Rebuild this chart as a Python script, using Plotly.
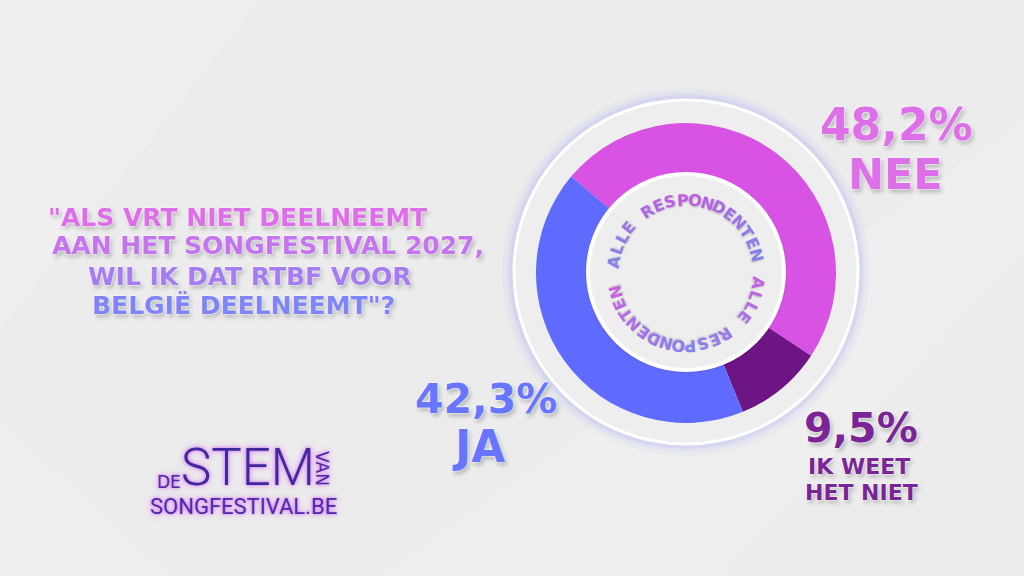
"""
Donut poll chart: 'Als VRT niet deelneemt aan het Songfestival 2027 ...'
Writes out.html
"""
import math
import plotly.graph_objects as go

W, H = 1024, 576

# ---- data ----
answers = ["NEE", "IK WEET HET NIET", "JA"]
shares = [48.2, 9.5, 42.3]
slice_colors = ["#d852e4", "#6e1585", "#5f6bff"]
label_colors = ["#dd6fe8", "#7a2595", "#6876ff"]

question_lines = [
    '"ALS VRT NIET DEELNEEMT',
    "AAN HET SONGFESTIVAL 2027,",
    "WIL IK DAT RTBF VOOR",
    'BELGIË DEELNEEMT"?',
]
question_colors = ["#de6de9", "#c474ec", "#a67cf1", "#7f84f6"]
ring_text = "ALLE RESPONDENTEN"


def px(x):
    return x / W


def py(y):
    return 1 - y / H


def circle(cx, cy, r, **kw):
    return dict(type="circle", xref="paper", yref="paper",
                x0=px(cx - r), x1=px(cx + r), y0=py(cy + r), y1=py(cy - r), **kw)


def pct(v):
    return f"{v:.1f}%".replace(".", ",")


CX, CY, R = 686, 273, 150
HEAD = "'DejaVu Sans', Roboto, sans-serif"
SHADOW = "0 0 2px #ffffff, 0 0 2px #ffffff, 2px 3px 4px rgba(0,0,0,0.25)"

fig = go.Figure()
fig.add_trace(go.Pie(
    labels=answers,
    values=shares,
    marker=dict(colors=slice_colors, line=dict(width=0)),
    hole=0.65,
    sort=False,
    direction="clockwise",
    rotation=-50,
    textinfo="none",
    hoverinfo="label+percent",
    showlegend=False,
    domain=dict(x=[px(CX - R), px(CX + R)], y=[py(CY + R), py(CY - R)]),
))

shapes = []
# faint diagonal light bands in the background
for pts in [
    [(0, 0), (260, 0), (0, 330)],
    [(380, 576), (720, 576), (1024, 250), (1024, 120)],
    [(0, 420), (0, 576), (170, 576)],
]:
    path = "M " + " L ".join(f"{px(a)},{py(b)}" for a, b in pts) + " Z"
    shapes.append(dict(type="path", xref="paper", yref="paper", path=path,
                       fillcolor="rgba(255,255,255,0.2)", line=dict(width=0),
                       layer="below"))
# soft bluish glow + outer disc
for r, a in [(184, 0.04), (180, 0.06), (177, 0.09)]:
    shapes.append(circle(CX, CY - 1, r, fillcolor=f"rgba(110,115,255,{a})",
                         line=dict(width=0), layer="below"))
shapes.append(circle(CX, CY - 1, 172, fillcolor="#eeeeee",
                     line=dict(color="#ffffff", width=3), layer="below"))
# inner disc in the hole
shapes.append(circle(CX, CY, 101, fillcolor="rgba(0,0,0,0.05)",
                     line=dict(width=0), layer="above"))
shapes.append(circle(CX, CY - 1, 98, fillcolor="#eeeeee",
                     line=dict(color="#ffffff", width=4), layer="above"))

annotations = []


def add_text(text, x, y, size, color, weight=700, family=HEAD, angle=0,
             shadow=SHADOW):
    annotations.append(dict(
        text=text, x=px(x), y=py(y), xref="paper", yref="paper",
        xanchor="center", yanchor="middle", showarrow=False, textangle=angle,
        font=dict(family=family, size=size, color=color, weight=weight, shadow=shadow),
    ))


# question
for line, col, (x, y) in zip(question_lines, question_colors,
                             [(237, 217), (268, 246), (250, 276), (243, 305)]):
    add_text(line, x, y, 25, col)

# value labels
add_text(pct(shares[0]), 896, 125, 44, label_colors[0])
add_text(answers[0], 895, 174, 43, label_colors[0])
add_text(pct(shares[2]), 486, 399, 41, label_colors[2])
add_text(answers[2], 478, 446, 44, label_colors[2])
add_text(pct(shares[1]), 861, 428, 41, label_colors[1])
add_text("IK WEET", 859, 466, 22, label_colors[1])
add_text("HET NIET", 861, 492, 22, label_colors[1])


# circular "ALLE RESPONDENTEN" text, two copies
def mix(c1, c2, t):
    a = [int(c1[i:i + 2], 16) for i in (1, 3, 5)]
    b = [int(c2[i:i + 2], 16) for i in (1, 3, 5)]
    return "#" + "".join(f"{round(u + (v - u) * t):02x}" for u, v in zip(a, b))


RT = 73
step = 9.8
for start, c_end, c_mid in [(-81, "#8383ee", "#c25be0"), (98, "#c862e0", "#8383ee")]:
    n = len(ring_text)
    for i, ch in enumerate(ring_text):
        if ch == " ":
            continue
        ang = start + i * step
        t = 1 - abs(i / (n - 1) * 2 - 1)
        x = CX + RT * math.sin(math.radians(ang))
        y = CY - RT * math.cos(math.radians(ang))
        add_text(ch, x, y, 16, mix(c_end, c_mid, t), angle=ang,
                 shadow="1px 1px 2px rgba(0,0,0,0.2)")

# logo
LOGO_SHADOW = "0 0 3px #e070f0, 0 0 6px rgba(200,90,240,0.7)"
LOGO_FONT = "Roboto, sans-serif"
add_text("DE", 169, 482, 17, "#4a2aa8", weight=400, family=HEAD, shadow=LOGO_SHADOW)
add_text("STEM", 248, 467, 51, "#3d2a9c", weight=300, family=LOGO_FONT, shadow=LOGO_SHADOW)
add_text("VAN", 322, 468, 17, "#4a2aa8", weight=400, angle=90,
         family=HEAD, shadow=LOGO_SHADOW)
add_text("SONGFESTIVAL.BE", 243, 506, 22, "#4d2ab0", weight=400,
         family=LOGO_FONT, shadow=LOGO_SHADOW)

fig.update_layout(
    width=W,
    height=H,
    paper_bgcolor="#ececec",
    plot_bgcolor="#ececec",
    margin=dict(l=0, r=0, t=0, b=0),
    shapes=shapes,
    annotations=annotations,
)

fig.write_html(
    "out.html",
    config={"displayModeBar": False},
    post_script="document.body.style.margin='0px';document.body.style.overflow='hidden';",
)
